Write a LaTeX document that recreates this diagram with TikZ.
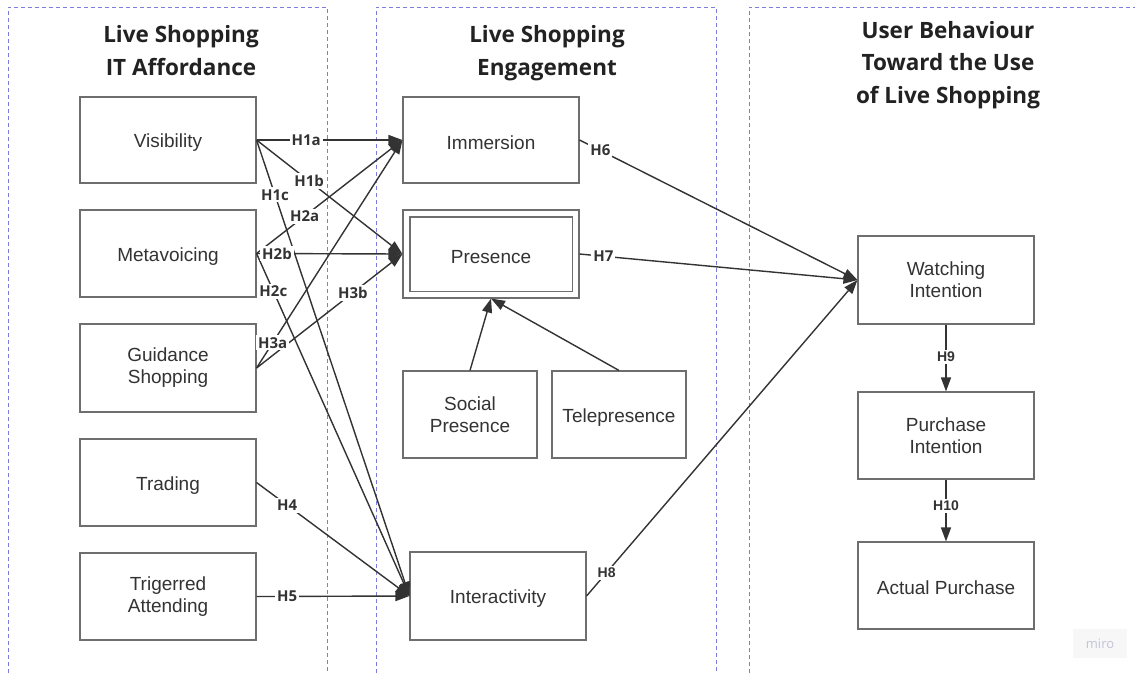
\documentclass[tikz,border=0pt]{standalone}
\usepackage{fontspec}
\setmainfont{Liberation Sans}
\newfontfamily\hfont{Open Sans}
\usetikzlibrary{arrows.meta}
\definecolor{ink}{HTML}{333333}
\definecolor{hink}{HTML}{222222}
\definecolor{edgec}{HTML}{6E6E6E}
\definecolor{panelc}{RGB}{125,125,220}
\definecolor{mirotext}{RGB}{195,195,215}
\begin{document}
\begin{tikzpicture}[x=1pt,y=-1pt,
  box/.style={draw=edgec, line width=1.1pt, fill=white, text=ink, inner sep=0pt, align=center,
    font=\fontsize{19}{22}\selectfont, execute at begin node={\rule{0pt}{19pt}}},
  hdr/.style={text=hink, font=\hfont\bfseries\fontsize{22.5}{32.5}\selectfont, align=center, anchor=base, inner sep=0pt},
  conn/.style={draw=ink, line width=1.4pt, -{Triangle[length=14pt,width=10pt]}},
  lbl/.style={fill=white, text=ink, inner sep=2pt, font=\hfont\bfseries\fontsize{15}{17}\selectfont},
  lblb/.style={fill=white, text=ink, inner sep=2pt, font=\bfseries\fontsize{14}{16}\selectfont},
  panel/.style={draw=panelc, line width=0.9pt, dash pattern=on 4pt off 3pt}
]
\useasboundingbox (0,0) rectangle (1135,673);
\fill[white] (0,0) rectangle (1135,673);

% panels
\draw[panel] (8,673) -- (8,7) -- (327,7) -- (327,673);
\draw[panel] (376,673) -- (376,7) -- (716,7) -- (716,673);
\draw[panel] (749,673) -- (749,7) -- (1135,7);

% headers (anchor base = baseline of last line)
\node[hdr] (h1) at (181,75) {Live Shopping\\IT Affordance};
\node[hdr] (h2) at (547,75) {Live Shopping\\Engagement};
\node[hdr] (h3) at (948,103) {User Behaviour\\Toward the Use\\of Live Shopping};

% left column
\node[box, minimum width=176pt, minimum height=86pt] (vis) at (168,140) {Visibility};
\node[box, minimum width=176pt, minimum height=87pt] (meta) at (168,253.5) {Metavoicing};
\node[box, minimum width=176pt, minimum height=88pt] (guid) at (168,368) {Guidance\\Shopping};
\node[box, minimum width=176pt, minimum height=87pt] (trad) at (168,482.5) {Trading};
\node[box, minimum width=176pt, minimum height=87pt] (trig) at (168,596.5) {Trigerred\\Attending};

% middle column
\node[box, minimum width=176pt, minimum height=86pt] (imm) at (491,140) {Immersion};
\node[box, minimum width=176pt, minimum height=88pt] (pres) at (491,254) {Presence};
\draw[draw=edgec, line width=1.1pt] ([shift={(7.5pt,7.5pt)}]pres.south west) rectangle ([shift={(-7.5pt,-7.5pt)}]pres.north east);
\node[box, minimum width=134pt, minimum height=87pt] (soc) at (470,414.5) {Social\\Presence};
\node[box, minimum width=134pt, minimum height=87pt] (tel) at (619,414.5) {Telepresence};
\node[box, minimum width=176pt, minimum height=88pt] (inter) at (498,596) {Interactivity};

% right column
\node[box, minimum width=176pt, minimum height=88pt] (watch) at (946,280) {Watching\\Intention};
\node[box, minimum width=176pt, minimum height=87pt] (purch) at (946,435.5) {Purchase\\Intention};
\node[box, minimum width=176pt, minimum height=87pt] (act) at (946,585.5) {Actual Purchase};

% connectors
\draw[conn] (vis.east) -- (imm.west);
\draw[conn] (vis.east) -- (pres.west);
\draw[conn] (vis.east) -- (inter.west);
\draw[conn] (meta.east) -- (imm.west);
\draw[conn] (meta.east) -- (pres.west);
\draw[conn] (meta.east) -- (inter.west);
\draw[conn] (guid.east) -- (imm.west);
\draw[conn] (guid.east) -- (pres.west);
\draw[conn] (trad.east) -- (inter.west);
\draw[conn] (trig.east) -- (inter.west);
\draw[conn] (imm.east) -- (watch.west);
\draw[conn] (pres.east) -- (watch.west);
\draw[conn] (inter.east) -- (watch.west);
\draw[conn] (watch.south) -- (purch.north);
\draw[conn] (purch.south) -- (act.north);
\draw[conn] (soc.north) -- (pres.south);
\draw[conn] (tel.north) -- (pres.south);

% labels
\path (vis.east) -- (imm.west) node[lbl, pos=0.34] (l1a) {H1a};
\path (vis.east) -- (pres.west) node[lbl, pos=0.36] (l1b) {H1b};
\path (vis.east) -- (inter.west) node[lbl, pos=0.12] (l1c) {H1c};
\path (meta.east) -- (imm.west) node[lbl, pos=0.33] (l2a) {H2a};
\path (meta.east) -- (pres.west) node[lbl, pos=0.14] (l2b) {H2b};
\path (meta.east) -- (inter.west) node[lbl, pos=0.11] (l2c) {H2c};
\path (guid.east) -- (imm.west) node[lbl, pos=0.11] (l3a) {H3a};
\path (guid.east) -- (pres.west) node[lbl, pos=0.66] (l3b) {H3b};
\path (trad.east) -- (inter.west) node[lbl, pos=0.2] (l4) {H4};
\path (trig.east) -- (inter.west) node[lbl, pos=0.2] (l5) {H5};
\path (imm.east) -- (watch.west) node[lbl, pos=0.075] (l6) {H6};
\path (pres.east) -- (watch.west) node[lbl, pos=0.086] (l7) {H7};
\path (inter.east) -- (watch.west) node[lblb, pos=0.074] (l8) {H8};
\path (watch.south) -- (purch.north) node[lblb, pos=0.48] (l9) {H9};
\path (purch.south) -- (act.north) node[lblb, pos=0.43] (l10) {H10};

% watermark
\node[fill=black!3, text=mirotext, inner sep=3pt, font=\hfont\fontsize{13}{15}\selectfont, minimum width=54pt, minimum height=29pt] (miro) at (1100,643.5) {miro};
\end{tikzpicture}
\end{document}
